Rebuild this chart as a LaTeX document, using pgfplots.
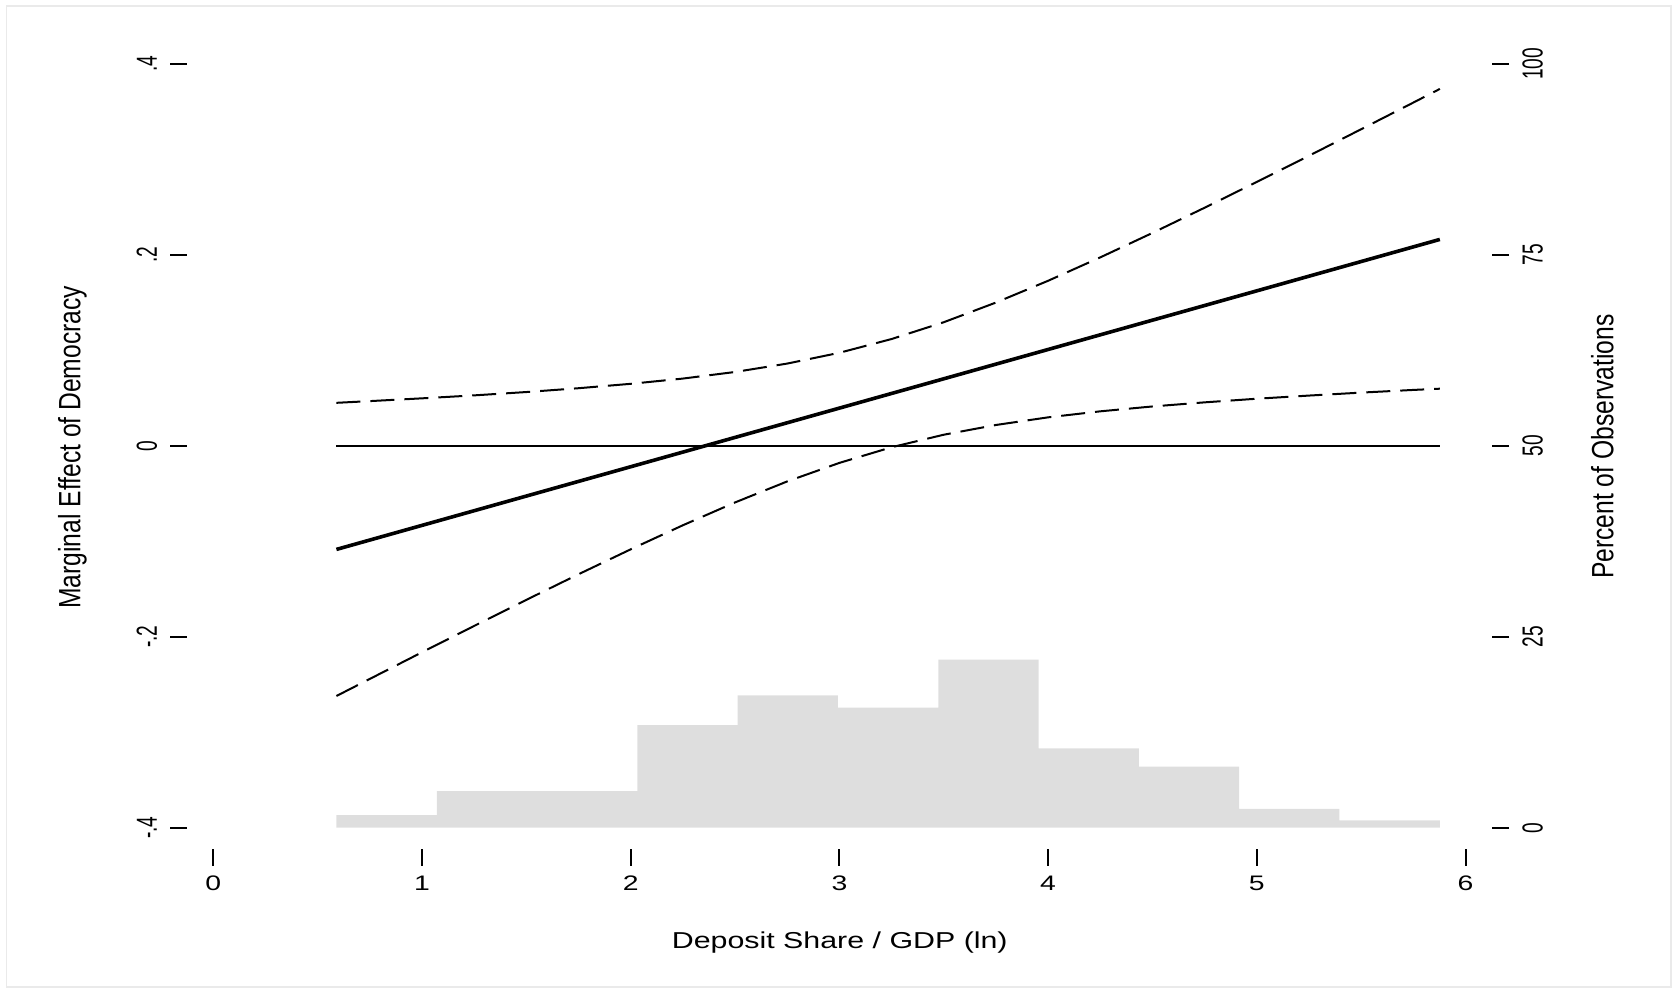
\documentclass[border=0pt]{standalone}
\usepackage{fontspec}
\setmainfont{Liberation Sans}
\newfontfamily\hfont{Liberation Sans}[FakeStretch=1.35]
\newfontfamily\hlfont{Liberation Sans}[FakeStretch=1.32]
\newfontfamily\vfont{Liberation Sans}[FakeStretch=0.66]
\newfontfamily\vlfont{Liberation Sans}[FakeStretch=0.8]
\usepackage{pgfplots}
\usepackage{pgfplotstable}
\pgfplotsset{compat=1.18}
\definecolor{histfill}{RGB}{222,222,222}
\definecolor{frame}{RGB}{234,234,234}

\pgfplotstableread{
x upper lower
0.590 0.0449 -0.2621
0.75 0.0467 -0.2442
1.00 0.0496 -0.2163
1.25 0.0527 -0.1887
1.50 0.0562 -0.1614
1.75 0.0602 -0.1346
2.00 0.0648 -0.1085
2.25 0.0703 -0.0833
2.50 0.0772 -0.0594
2.75 0.0860 -0.0374
3.00 0.0973 -0.0180
3.25 0.1117 -0.0016
3.50 0.1293 0.0115
3.75 0.1499 0.0217
4.00 0.1727 0.0297
4.25 0.1972 0.0360
4.50 0.2228 0.0411
4.75 0.2492 0.0454
5.00 0.2762 0.0492
5.25 0.3036 0.0525
5.50 0.3314 0.0556
5.75 0.3593 0.0584
5.877 0.3736 0.0597
}\citable

\pgfplotstableread{
left pct
0.590 1.66
1.071 4.80
1.551 4.80
2.032 13.44
2.512 17.33
2.993 15.71
3.474 21.99
3.954 10.39
4.435 7.98
4.915 2.45
5.396 0.97
5.877 0.97
}\histtable

\begin{document}
\begin{tikzpicture}
\path[use as bounding box] (-93.65pt,-71pt) rectangle (745.35pt,424.5pt);
\draw[frame, line width=0.8pt] (-90.3pt,-69pt) rectangle (741.7pt,421.35pt);
\begin{axis}[
  at={(0,0)}, anchor=south west,
  x=104.35pt, y=3.82pt,
  xmin=-0.1246, xmax=6.128, ymin=-2.7875, ymax=102.5,
  axis x line=none, axis y line*=right,
  axis line style={draw=none},
  tick align=outside, major tick length=8.5pt,
  tick style={draw=black, line width=1pt},
  ytick={0,25,50,75,100}, yticklabels={0,25,50,75,100},
  yticklabel style={font=\vfont\fontsize{14.5}{16}\selectfont, rotate=90, anchor=base},
  yticklabel shift=16.7pt,
  ylabel={Percent of Observations},
  every axis y label/.style={at={(axis description cs:1.0928,0.5)}, anchor=base, rotate=90, font=\vlfont\fontsize{15.4}{17}\selectfont},
  clip=false,
]
\addplot[ybar interval, fill=histfill, draw=none] table[x=left, y=pct] {\histtable};
\end{axis}
\begin{axis}[
  at={(0,0)}, anchor=south west,
  x=104.35pt, y=477.5pt,
  xmin=-0.1246, xmax=6.128, ymin=-0.4223, ymax=0.42,
  axis x line*=bottom, axis y line*=left,
  axis line style={draw=none},
  tick align=outside, major tick length=8.5pt,
  tick style={draw=black, line width=1pt},
  xtick={0,1,2,3,4,5,6}, xticklabels={0,1,2,3,4,5,6},
  ytick={-0.4,-0.2,0,0.2,0.4}, yticklabels={-.4,-.2,0,.2,.4},
  xticklabel style={font=\hfont\fontsize{10.5}{12}\selectfont, anchor=base},
  xticklabel shift=12.15pt,
  yticklabel style={font=\vfont\fontsize{14.5}{16}\selectfont, rotate=90, anchor=base},
  yticklabel shift=6.65pt,
  xlabel={Deposit Share / GDP (ln)},
  every axis x label/.style={at={(axis description cs:0.5,-0.1242)}, anchor=base, font=\hlfont\fontsize{11.5}{13}\selectfont},
  ylabel={Marginal Effect of Democracy},
  every axis y label/.style={at={(axis description cs:-0.0820,0.4994)}, anchor=base, rotate=90, font=\vlfont\fontsize{15.4}{17}\selectfont},
  clip=false,
]
\addplot[black, line width=0.85pt] coordinates {(0.590,0) (5.877,0)};
\addplot[black, line width=1pt, dash pattern=on 12pt off 5pt] table[x=x, y=upper] {\citable};
\addplot[black, line width=1pt, dash pattern=on 12pt off 5pt] table[x=x, y=lower] {\citable};
\addplot[black, line width=1.8pt] coordinates {(0.590,-0.1086) (5.877,0.2160)};
\end{axis}
\end{tikzpicture}
\end{document}
